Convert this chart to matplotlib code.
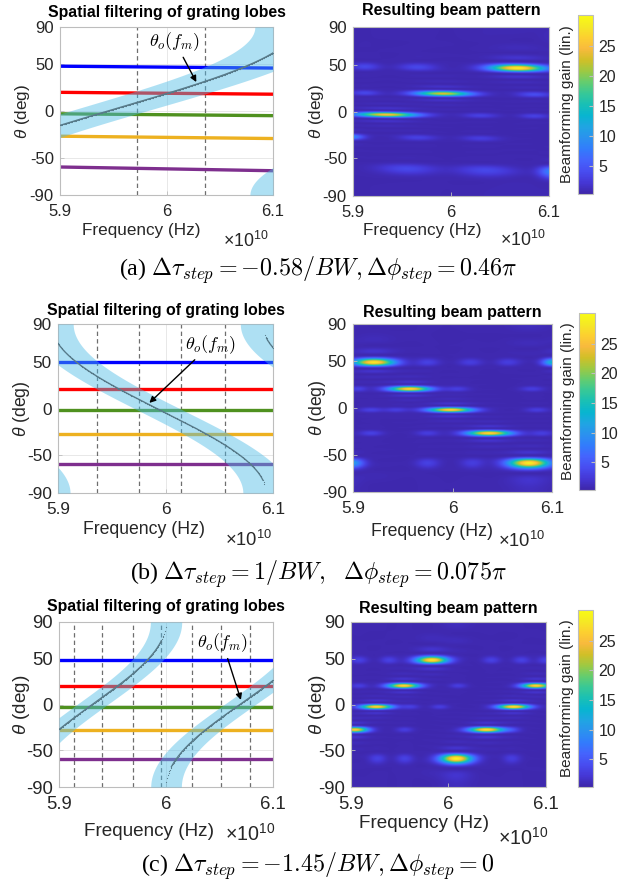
import numpy as np
import matplotlib
matplotlib.use('Agg')
import matplotlib.pyplot as plt
from matplotlib.colors import LinearSegmentedColormap

plt.rcParams['font.family'] = ['Liberation Sans', 'DejaVu Sans']
plt.rcParams['mathtext.fontset'] = 'custom'
plt.rcParams['mathtext.rm'] = 'Liberation Sans'
plt.rcParams['mathtext.it'] = 'Liberation Sans:italic'

# ---------------- data (frequency in units of 1e10 Hz) ----------------
F0 = 6.0            # centre frequency
BW = 0.2            # bandwidth
x_ticks = [5.9, 6.0, 6.1]
x_ticklabels = ['5.9', '6', '6.1']
y_ticks = [-90, -50, 0, 50, 90]
y_ticklabels = ['-90', '-50', '0', '50', '90']

user_colors = ['#0000ff', '#ff0000', '#4f911f', '#edb120', '#7e2f8e']
# user angles (deg) at 5.9 and 6.1 (x1e10 Hz)
users_a_start = [48, 20, -3, -27, -60]
users_a_end = [46, 18, -5, -29.5, -64]
users_b_start = [49, 20.5, -2, -27, -59]
users_b_end = [49, 20.5, -2, -27, -59]
users_c_start = [48.5, 20.5, -2.5, -27.5, -59]
users_c_end = [48.5, 20.5, -2.5, -27.5, -59]

dtau_step = [-0.58, 1.0, -1.45]      # in 1/BW (captions)
psi_centre = [-0.32, 0.08, 1.0]      # steering phase at 6e10 Hz, in pi units (read)
band_halfwidth = 0.21                # in sin(theta)

subband_edges_a = [5.972, 6.036]
subband_edges_b = [5.9364, 5.975, 6.0145, 6.0555]
subband_edges_c = [5.9137, 5.9402, 5.9692, 5.9956, 6.0246, 6.0517, 6.0788]

# beam-pattern blobs: user index, centre frequency, peak gain, spread in f
blob_user_a = [2, 1, 0, 3, 4, 0, 0, 1, 1, 2, 2, 3, 3, 4, 4]
blob_f_a = [5.934, 5.992, 6.068, 5.897, 6.103, 5.912, 5.966, 5.912, 6.085,
            6.03, 6.085, 5.966, 6.03, 5.955, 6.035]
blob_g_a = [25, 23, 28.5, 9, 8, 3, 3, 3, 3.5, 2.5, 2.5, 2.5, 2.2, 3, 3]
blob_w_a = [0.021, 0.019, 0.019, 0.009, 0.009, 0.01, 0.013, 0.01, 0.012,
            0.012, 0.01, 0.013, 0.013, 0.02, 0.02]

blob_user_b = [0, 1, 2, 3, 4, 0, 4,
               0, 0, 0, 1, 1, 1, 2, 2, 2, 3, 3, 3, 4, 4]
blob_f_b = [5.921, 5.957, 5.998, 6.037, 6.077, 6.101, 5.899,
            5.975, 6.018, 6.056, 5.905, 6.005, 6.08, 5.918, 5.943, 6.085,
            5.918, 5.975, 6.09, 5.975, 6.02]
blob_g_b = [28, 27, 27, 27, 28.5, 13, 10,
            2.5, 2.2, 2.2, 2.5, 2.2, 2.2, 2.5, 2.2, 2.2,
            2.5, 2.2, 2.2, 2.5, 2.2]
blob_w_b = [0.014, 0.014, 0.015, 0.015, 0.014, 0.007, 0.008,
            0.008, 0.008, 0.008, 0.006, 0.008, 0.008, 0.008, 0.008, 0.008,
            0.008, 0.008, 0.008, 0.008, 0.008]

blob_user_c = [3, 2, 1, 0, 4, 3, 2, 1,
               0, 0, 0, 0, 0, 1, 1, 2, 2, 3, 3, 4, 4, 4]
blob_f_c = [5.904, 5.926, 5.954, 5.983, 6.008, 6.039, 6.067, 6.09,
            5.908, 5.939, 6.044, 6.075, 6.1, 5.908, 6.01, 5.961, 5.991,
            5.955, 6.065, 5.927, 5.955, 6.065]
blob_g_c = [26, 27, 27, 28, 29, 28, 28, 27,
            2.5, 2.5, 2.5, 2.5, 2.5, 2.2, 2.2, 2.2, 2.2, 2.2, 2.2, 2.5, 2.5, 2.2]
blob_w_c = [0.009, 0.011, 0.011, 0.011, 0.011, 0.012, 0.011, 0.010,
            0.006, 0.006, 0.006, 0.006, 0.006, 0.006, 0.006, 0.006, 0.006,
            0.006, 0.006, 0.006, 0.006, 0.006]

gain_floor = 0.6
n_elements = 24
cbar_ticks = [5, 10, 15, 20, 25]
gain_lim = (0.3, 30.2)

captions = [r'(a) $\Delta\tau_{step} = -0.58/BW, \Delta\phi_{step} = 0.46\pi$',
            r'(b) $\Delta\tau_{step} = 1/BW,\ \ \Delta\phi_{step} = 0.075\pi$',
            r'(c) $\Delta\tau_{step} = -1.45/BW, \Delta\phi_{step} = 0$']

# parula colormap anchors
parula_pts = [(0.2422, 0.1504, 0.6603), (0.2706, 0.2147, 0.8364), (0.2813, 0.3006, 0.9414),
              (0.2699, 0.3892, 0.9906), (0.1963, 0.4847, 0.9892), (0.1687, 0.5703, 0.9359),
              (0.1248, 0.6459, 0.8883), (0.0297, 0.7082, 0.8163), (0.0964, 0.7500, 0.7120),
              (0.2161, 0.7843, 0.5923), (0.3909, 0.8029, 0.4354), (0.6174, 0.7876, 0.2612),
              (0.8203, 0.7498, 0.1535), (0.9728, 0.7298, 0.2394), (0.9892, 0.8136, 0.1885),
              (0.9597, 0.9135, 0.1423), (0.9769, 0.9839, 0.0805)]
parula = LinearSegmentedColormap.from_list('parula', parula_pts, N=256)

# ---------------- layout (pixels of 636x886) ----------------
W, H = 636, 886
fig = plt.figure(figsize=(W / 100, H / 100), dpi=100)


def px_axes(x0, y0, x1, y1):
    return fig.add_axes([x0 / W, 1 - y1 / H, (x1 - x0) / W, (y1 - y0) / H])


rows = [
    dict(left=(60, 27, 273, 195), right=(353, 27, 549, 196), cbar=(578, 15, 593, 194),
         ustart=users_a_start, uend=users_a_end, edges=subband_edges_a,
         bu=blob_user_a, bf=blob_f_a, bg=blob_g_a, bw=blob_w_a,
         txt=(6.008, 74), head=(6.028, 31), tail=(6.012, 64),
         xl_left=(141, 231), xl_right=(422, 231), x10_left=(246, 241), x10_right=(523, 240),
         tl=12, tr=11, lab=12.3, cap_y=270),
    dict(left=(58, 324, 273, 493), right=(353, 324, 552, 492), cbar=(579, 313, 595, 490),
         ustart=users_b_start, uend=users_b_end, edges=subband_edges_b,
         bu=blob_user_b, bf=blob_f_b, bg=blob_g_b, bw=blob_w_b,
         txt=(6.042, 68), head=(5.985, 6), tail=(6.021, 57),
         xl_left=(144, 530), xl_right=(432, 531), x10_left=(249, 540), x10_right=(522, 541),
         tl=310, tr=312, lab=12.7, cap_y=574),
    dict(left=(59, 622, 273, 787), right=(351, 622, 546, 787), cbar=(578, 610, 593, 787),
         ustart=users_c_start, uend=users_c_end, edges=subband_edges_c,
         bu=blob_user_c, bf=blob_f_c, bg=blob_g_c, bw=blob_w_c,
         txt=(6.053, 67), head=(6.070, 5), tail=(6.044, 57),
         xl_left=(149, 831), xl_right=(424, 823), x10_left=(250, 834), x10_right=(523, 838),
         tl=607, tr=608, lab=13.6, cap_y=866),
]

tick_col = '#262626'
spine_col = '#bdbdbd'


def style_axes(ax, box, xl_pos, lab_size, ylab_x):
    x0, y0, x1, y1 = box
    ax.set_xlim(5.9, 6.1)
    ax.set_ylim(-90, 90)
    ax.set_xticks(x_ticks)
    ax.set_xticklabels(x_ticklabels)
    ax.set_yticks(y_ticks)
    ax.set_yticklabels(y_ticklabels)
    ax.tick_params(direction='in', length=3, width=0.6, color=spine_col,
                   labelsize=lab_size - 0.3, labelcolor=tick_col)
    ax.tick_params(axis='x', pad=6.5)
    ax.tick_params(axis='y', pad=4.5)
    for sp in ax.spines.values():
        sp.set_color(spine_col)
        sp.set_linewidth(0.8)
    ax.set_xlabel('Frequency (Hz)', fontsize=lab_size, color=tick_col, va='center')
    ax.xaxis.set_label_coords((xl_pos[0] - x0) / (x1 - x0), (y1 - xl_pos[1]) / (y1 - y0))
    ax.set_ylabel(r'$\theta$ (deg)', fontsize=lab_size, color=tick_col, va='center')
    ax.yaxis.set_label_coords((ylab_x - x0) / (x1 - x0), 0.5)


def user_angle(us, ue, f):
    return us + (ue - us) * (f - 5.9) / 0.2


f_fine = np.linspace(5.9, 6.1, 3001)
f_marks = np.linspace(5.9, 6.1, 300)
f_img = np.linspace(5.9, 6.1, 600)
th_img = np.linspace(-90, 90, 901)
FF, TT = np.meshgrid(f_img, th_img)
SS = np.sin(np.radians(TT))


def dirichlet2(x, n):
    num = np.sin(n * np.pi * x / 2)
    den = n * np.sin(np.pi * x / 2)
    out = np.ones_like(x)
    ok = np.abs(den) > 1e-9
    out[ok] = (num[ok] / den[ok]) ** 2
    return out


for r, row in enumerate(rows):
    # ---------- left: spatial filtering ----------
    ax = px_axes(*row['left'])
    ax.grid(True, color='#e4e4e4', lw=0.6)
    ax.set_axisbelow(True)
    for e in row['edges']:
        ax.axvline(e, color='#6e6e6e', lw=0.9, ls=(0, (3.5, 2.5)), zorder=1.5)
    for u in range(5):
        ax.plot([5.9, 6.1], [row['ustart'][u], row['uend'][u]], color=user_colors[u],
                lw=2.4, solid_capstyle='butt', zorder=2)
    psi = np.pi * psi_centre[r] + 2 * np.pi * dtau_step[r] * (f_fine - F0) / BW
    s_un = -psi / np.pi * F0 / f_fine
    for k in range(-3, 4):
        sc = s_un + 2 * k * F0 / f_fine
        lo, hi = sc - band_halfwidth, sc + band_halfwidth
        mask = (hi > -1) & (lo < 1)
        if not mask.any():
            continue
        th_lo = np.degrees(np.arcsin(np.clip(lo, -1, 1)))
        th_hi = np.degrees(np.arcsin(np.clip(hi, -1, 1)))
        ax.fill_between(f_fine, th_lo, th_hi, where=mask, color='#4dbbe6', alpha=0.45,
                        lw=0, zorder=3)
    psi_m = np.pi * psi_centre[r] + 2 * np.pi * dtau_step[r] * (f_marks - F0) / BW
    psi_w = np.angle(np.exp(1j * psi_m))
    s_m = -psi_w / np.pi * F0 / f_marks
    th_m = np.degrees(np.arcsin(np.clip(s_m, -1, 1)))
    # solid where samples are dense, dots where the curve is steep
    th_line = th_m.copy()
    jump = np.abs(np.diff(th_m)) > 1.6
    th_line[1:][jump] = np.nan
    ax.plot(f_marks, th_line, '-', lw=0.9, color='#587b8a', zorder=4)
    ax.plot(f_marks, th_m, '.', ms=1.7, mew=0, color='#587b8a', zorder=4)
    ax.annotate(r'$\theta_o(f_m)$', xy=row['head'], xytext=row['txt'],
                fontsize=13, math_fontfamily='cm', ha='center', va='center', zorder=6,
                arrowprops=dict(arrowstyle='-|>', color='k', lw=1.0, mutation_scale=9,
                                shrinkA=1, shrinkB=0))
    style_axes(ax, row['left'], row['xl_left'], row['lab'], 22)
    x0, y0, x1, y1 = row['left']
    fig.text((x0 + x1) / 2 / W, 1 - row['tl'] / H, 'Spatial filtering of grating lobes',
             ha='center', va='center', fontsize=11.4, fontweight='bold')
    fig.text(row['x10_left'][0] / W, 1 - row['x10_left'][1] / H, r'$\times10^{10}$',
             ha='center', va='center', fontsize=row['lab'] + 0.5, color=tick_col)

    # ---------- right: beam pattern ----------
    axr = px_axes(*row['right'])
    gain = np.full_like(SS, gain_floor)
    for u, fc, g, w in zip(row['bu'], row['bf'], row['bg'], row['bw']):
        tu = user_angle(row['ustart'][u], row['uend'][u], FF)
        env = g * np.exp(-0.5 * ((FF - fc) / w) ** 2)
        gain += env * dirichlet2(SS - np.sin(np.radians(tu)), n_elements)
    im = axr.imshow(gain, extent=[5.9, 6.1, -90, 90], origin='lower', aspect='auto',
                    cmap=parula, vmin=gain_lim[0], vmax=gain_lim[1], interpolation='bilinear')
    style_axes(axr, row['right'], row['xl_right'], row['lab'], 317)
    x0, y0, x1, y1 = row['right']
    fig.text((x0 + x1) / 2 / W, 1 - row['tr'] / H, 'Resulting beam pattern',
             ha='center', va='center', fontsize=11.5, fontweight='bold')
    fig.text(row['x10_right'][0] / W, 1 - row['x10_right'][1] / H, r'$\times10^{10}$',
             ha='center', va='center', fontsize=row['lab'] + 0.5, color=tick_col)

    cax = px_axes(*row['cbar'])
    cb = fig.colorbar(im, cax=cax, ticks=cbar_ticks)
    cb.outline.set_edgecolor(spine_col)
    cb.outline.set_linewidth(0.8)
    cax.tick_params(direction='in', length=3, color=spine_col, labelsize=11.5,
                    labelcolor=tick_col, pad=4)
    cax.yaxis.set_label_position('left')
    cb.set_label('Beamforming gain (lin.)', fontsize=11, color=tick_col, labelpad=3)

    fig.text(0.5, 1 - row['cap_y'] / H, captions[r], ha='center', va='center',
             fontsize=17.3, family='Liberation Serif', math_fontfamily='cm')

fig.savefig('out.png', dpi=100)
